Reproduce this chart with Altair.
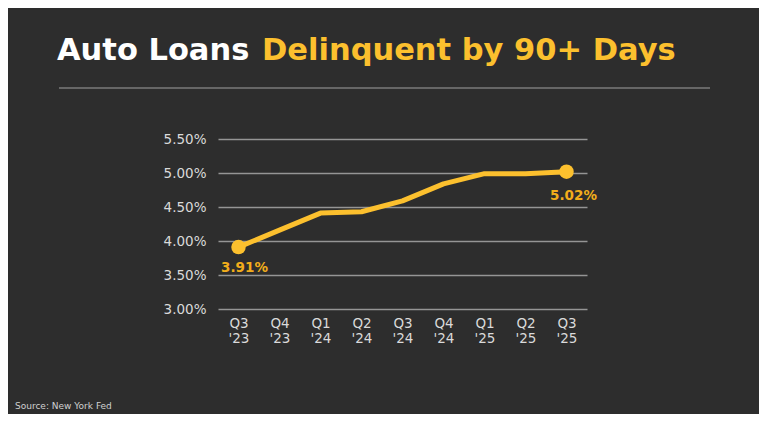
import altair as alt
import pandas as pd

quarters = ["Q3 '23", "Q4 '23", "Q1 '24", "Q2 '24", "Q3 '24", "Q4 '24", "Q1 '25", "Q2 '25", "Q3 '25"]
rates = [3.91, 4.16, 4.41, 4.43, 4.59, 4.84, 4.99, 4.99, 5.02]
end_labels = ["3.91%", "", "", "", "", "", "", "", "5.02%"]

df = pd.DataFrame({"q": quarters, "rate": [r / 100 for r in rates], "lab": end_labels})
ends = df[df["lab"] != ""].reset_index(drop=True)
ends["pos"] = ["first", "last"]

BG = "#2d2d2d"
YEL = "#fcc02e"
LAB = "#f2ad1b"
FONT = "DejaVu Sans"

x = alt.X("q:N", sort=quarters, title=None,
          scale=alt.Scale(padding=0.5),
          axis=alt.Axis(labelExpr="split(datum.label, ' ')", labelAngle=0, labelColor="#dadada",
                        labelFont=FONT, labelFontSize=13.5, labelPadding=7, labelLineHeight=15,
                        domain=False, ticks=False, grid=False, labelBaseline="top"))
y = alt.Y("rate:Q", title=None,
          scale=alt.Scale(domain=[0.03, 0.055], nice=False, zero=False),
          axis=alt.Axis(values=[0.03, 0.035, 0.04, 0.045, 0.05, 0.055], format=".2%",
                        labelColor="#dadada", labelFont=FONT, labelFontSize=13.5, labelPadding=12,
                        domain=False, ticks=False, gridColor="#959595", gridWidth=1.5))

base = alt.Chart(df)
line = base.mark_line(color=YEL, strokeWidth=5, strokeCap="round", strokeJoin="round").encode(x=x, y=y)
pts = alt.Chart(ends).mark_circle(color=YEL, size=210, opacity=1).encode(x=x, y=y)
lab_first = alt.Chart(ends[ends["pos"] == "first"]).mark_text(
    color=LAB, font=FONT, fontSize=13.5, fontWeight="bold", dx=6, dy=21).encode(x=x, y=y, text="lab:N")
lab_last = alt.Chart(ends[ends["pos"] == "last"]).mark_text(
    color=LAB, font=FONT, fontSize=13.5, fontWeight="bold", dx=7, dy=24).encode(x=x, y=y, text="lab:N")

title_df = pd.DataFrame({"t1": ["Auto Loans"], "t2": ["Delinquent by 90+ Days"], "src": ["Source: New York Fed"]})
t1 = alt.Chart(title_df).mark_text(color="white", font=FONT, fontSize=30.5, fontWeight="bold",
                                   align="left", baseline="alphabetic").encode(
    x=alt.value(57 - 218), y=alt.value(60 - 139), text="t1:N")
t2 = alt.Chart(title_df).mark_text(color=YEL, font=FONT, fontSize=30.5, fontWeight="bold",
                                   align="left", baseline="alphabetic").encode(
    x=alt.value(262 - 218), y=alt.value(60 - 139), text="t2:N")
rule = alt.Chart(title_df).mark_rule(color="#a0a0a0", strokeWidth=1).encode(
    x=alt.value(59 - 218), x2=alt.value(710 - 218), y=alt.value(88 - 139))
src = alt.Chart(title_df).mark_text(color="#d0d0d0", font=FONT, fontSize=9,
                                    align="left", baseline="alphabetic").encode(
    x=alt.value(15 - 218), y=alt.value(409 - 139), text="src:N")

chart = alt.layer(line, pts, lab_first, lab_last, rule, t1, t2, src).properties(
    width=369, height=170,
    autosize=alt.AutoSizeParams(type="none"),
    padding={"left": 210, "right": 172, "top": 131, "bottom": 105},
    background=BG,
).configure_view(stroke=None)

chart.save("out.html", embed_options={"renderer": "svg", "actions": False})
